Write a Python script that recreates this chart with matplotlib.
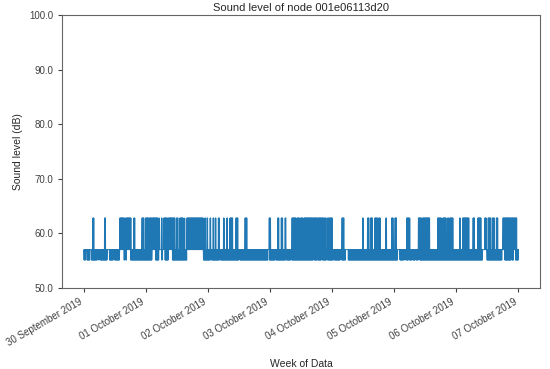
import numpy as np
import pandas as pd
import matplotlib
matplotlib.use("Agg")
import matplotlib.pyplot as plt
import matplotlib.dates as mdates
import seaborn as sns

sns.set_style("ticks")
plt.rcParams['font.family'] = ['Liberation Sans', 'DejaVu Sans']

# sound levels seen in the data (dB)
low_level = 55.1
base_level = 57.0
high_level = 62.8

# hours after 30 Sep 2019 00:00 where the level jumps up to ~62.8 dB
high_spans = [
    (3.5, 3.9), (8.0, 8.4), (13.8, 15.7), (16.1, 18.3), (19.3, 19.8),
    (22.4, 23.2), (23.8, 25.0), (25.3, 28.7), (29.1, 29.3), (30.0, 30.3),
    (30.9, 32.1), (32.3, 35.2), (35.7, 36.4), (37.1, 38.4), (38.9, 39.1),
    (39.7, 46.1), (46.7, 47.0), (47.6, 47.9), (48.7, 49.0), (50.0, 50.3),
    (50.8, 51.1), (52.0, 52.4), (54.0, 54.3), (55.2, 55.5), (56.4, 57.6),
    (58.7, 59.5), (62.3, 63.0), (71.6, 72.2), (74.9, 75.4), (76.3, 76.9),
    (77.8, 78.2), (80.4, 82.1), (82.5, 83.4), (83.8, 84.7), (85.1, 92.8),
    (93.0, 93.6), (94.0, 94.7), (95.0, 96.0), (99.8, 100.5), (107.7, 108.1),
    (109.6, 110.2), (110.8, 111.6), (112.4, 113.6), (114.0, 114.5),
    (116.7, 117.1), (119.0, 119.6), (120.2, 120.9), (124.7, 126.0),
    (129.2, 130.6), (130.9, 133.7), (136.8, 138.3), (138.7, 140.0),
    (140.6, 141.0), (141.5, 142.7), (145.2, 145.5), (146.5, 148.9),
    (150.4, 151.0), (152.2, 153.6), (155.0, 155.6), (156.2, 157.4),
    (158.0, 158.7), (159.4, 160.0), (162.0, 167.4),
]

# hours where the level drops down to ~55.1 dB
low_spans = [
    (0.0, 0.6), (1.2, 2.4), (2.8, 5.2), (5.6, 6.0), (6.4, 9.0),
    (9.8, 11.4), (11.8, 13.8), (15.5, 15.9), (16.1, 16.5), (18.0, 26.3),
    (27.6, 29.0), (30.0, 30.3), (31.3, 32.6), (34.1, 39.9), (46.1, 49.0),
    (49.3, 52.5), (52.8, 60.0), (60.3, 71.1), (71.6, 74.0), (74.3, 78.0),
    (78.3, 80.0), (80.3, 88.6), (89.0, 90.1), (90.4, 91.8), (92.1, 93.9),
    (94.2, 96.5), (96.8, 99.2), (99.6, 101.1), (102.2, 121.4),
    (122.2, 123.6), (124.0, 124.4), (124.7, 125.5), (125.9, 126.8),
    (127.2, 128.1), (128.5, 129.4), (129.8, 154.2), (155.8, 161.7),
    (162.6, 165.1), (165.5, 166.1), (166.8, 168.0),
]

start = pd.Timestamp("2019-09-30 00:00")
hours = np.arange(0, 168.01, 5 / 60)
times = start + pd.to_timedelta(hours, unit="h")


def inside(h, spans):
    return any(a <= h <= b for a, b in spans)


levels = []
for i, h in enumerate(hours):
    lo = inside(h, low_spans)
    hi = inside(h, high_spans)
    if lo and hi:
        levels.append(low_level if i % 2 else high_level)
    elif lo:
        levels.append(low_level if i % 2 else base_level)
    elif hi:
        levels.append(high_level if i % 2 else base_level)
    else:
        levels.append(base_level)

fig, ax = plt.subplots(figsize=(5.5, 3.69), dpi=100)
ax.plot(times, levels, color='#1f77b4', linewidth=0.7)

ax.set_ylim(50, 100)
ax.set_yticks(np.arange(50, 101, 10))
ax.yaxis.set_major_formatter(matplotlib.ticker.FormatStrFormatter('%.1f'))
ax.xaxis.set_major_locator(mdates.DayLocator())
ax.xaxis.set_major_formatter(mdates.DateFormatter('%d %B %Y'))
fig.autofmt_xdate()

ax.set_title('Sound level of node 001e06113d20', fontsize=8, pad=3)
ax.set_xlabel('Week of Data', fontsize=7.5, labelpad=8)
ax.set_ylabel('Sound level (dB)', fontsize=7.5)
ax.tick_params(labelsize=7, length=3, width=0.8, colors='.25')
for s in ax.spines.values():
    s.set_color('.4')
    s.set_linewidth(0.8)

fig.subplots_adjust(left=0.113, right=0.982, top=0.959, bottom=0.22)
fig.savefig('out.png', dpi=100)
